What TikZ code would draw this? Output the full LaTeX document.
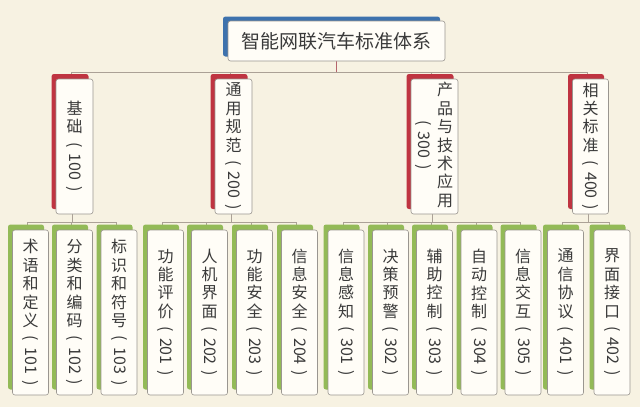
\documentclass[tikz,border=0pt]{standalone}
\usepackage{fontspec}
\setmainfont{Noto Sans CJK SC}
\usetikzlibrary{shadows,backgrounds}
\definecolor{bg}{HTML}{F7F2E2}
\definecolor{boxfill}{HTML}{FFFDF7}
\definecolor{bord}{HTML}{9A9690}
\definecolor{txt}{HTML}{3A3A3A}
\definecolor{redc}{HTML}{BF3441}
\definecolor{grn}{HTML}{93BA57}
\definecolor{blu}{HTML}{3E72AD}
\definecolor{conn}{HTML}{ABA196}
\definecolor{rootconn}{HTML}{B5646C}
\newcommand{\pr}[1]{\raisebox{9pt}{\rotatebox{-90}{(\hspace{6pt}#1\hspace{6pt})}}}
\begin{document}
\begin{tikzpicture}[x=1pt,y=-1pt,
  box/.style={draw=bord, line width=0.6pt, fill=boxfill, rounded corners=2.5pt,
    inner sep=0pt, align=center, text=txt, font=\fontsize{16}{18.4}\selectfont},
  rootbox/.style={box, minimum width=217pt, minimum height=40pt,
    drop shadow={shadow xshift=-5pt, shadow yshift=4.5pt, fill=blu, opacity=1},
    font=\fontsize{19}{22}\selectfont},
  midbox/.style={box, minimum width=37pt, minimum height=135pt,
    drop shadow={shadow xshift=-4.5pt, shadow yshift=5pt, fill=redc, opacity=1}},
  leafbox/.style={box, minimum width=36pt, minimum height=165pt,
    drop shadow={shadow xshift=-4.5pt, shadow yshift=5.5pt, fill=grn, opacity=1}},
  vtxt/.style={inner sep=0pt, align=center, text=txt, font=\fontsize{16}{18.4}\selectfont},
  link/.style={draw=conn, line width=0.9pt},
  rootlink/.style={draw=rootconn, line width=1.2pt}
]
\useasboundingbox (0,0) rectangle (640,407);

% root
\node[rootbox] (root) at (336.5,41) {智能网联汽车标准体系};

% level 2
\node[midbox] (A) at (74.5,146.5) {基\\础\\\pr{100}};
\node[midbox] (B) at (233.5,146.5) {通\\用\\规\\范\\\pr{200}};
\node[midbox, minimum width=47pt] (C) at (434.5,146.5) {};
\node[vtxt] (Ct) at (445,145) {产\\品\\与\\技\\术\\应\\用};
\node[vtxt] (Cp) at (423,145) {\pr{300}};
\node[midbox, minimum width=36pt] (D) at (590.5,146.5) {相\\关\\标\\准\\\pr{400}};

% level 3
\node[leafbox] (a1) at (30.5,312.5) {术\\语\\和\\定\\义\\\pr{101}};
\node[leafbox] (a2) at (74.5,312.5) {分\\类\\和\\编\\码\\\pr{102}};
\node[leafbox] (a3) at (119,312.5) {标\\识\\和\\符\\号\\\pr{103}};
\node[leafbox] (b1) at (165.5,312.5) {功\\能\\评\\价\\\pr{201}};
\node[leafbox] (b2) at (209.5,312.5) {人\\机\\界\\面\\\pr{202}};
\node[leafbox] (b3) at (254.5,312.5) {功\\能\\安\\全\\\pr{203}};
\node[leafbox] (b4) at (299.5,312.5) {信\\息\\安\\全\\\pr{204}};
\node[leafbox] (c1) at (346,312.5) {信\\息\\感\\知\\\pr{301}};
\node[leafbox] (c2) at (390.5,312.5) {决\\策\\预\\警\\\pr{302}};
\node[leafbox] (c3) at (434.5,312.5) {辅\\助\\控\\制\\\pr{303}};
\node[leafbox] (c4) at (479,312.5) {自\\动\\控\\制\\\pr{304}};
\node[leafbox] (c5) at (523,312.5) {信\\息\\交\\互\\\pr{305}};
\node[leafbox] (d1) at (565.5,312.5) {通\\信\\协\\议\\\pr{401}};
\node[leafbox] (d2) at (612,312.5) {界\\面\\接\\口\\\pr{402}};

\begin{scope}[on background layer]
  \fill[bg] (0,0) rectangle (640,407);
  \foreach \n in {A,B,C,D}
    \draw[link] (root.south) ++(0,11) -| ([xshift=-3pt]\n.north);
  \draw[rootlink] (root.south) -- ++(0,11);
  \foreach \p/\c in {A/a1,A/a2,A/a3,B/b1,B/b2,B/b3,B/b4,C/c1,C/c2,C/c3,C/c4,C/c5,D/d1,D/d2}
    \draw[link] ([xshift=-2pt]\p.south) -- ++(0,8) -| ([xshift=-3pt]\c.north);
\end{scope}
\end{tikzpicture}
\end{document}
